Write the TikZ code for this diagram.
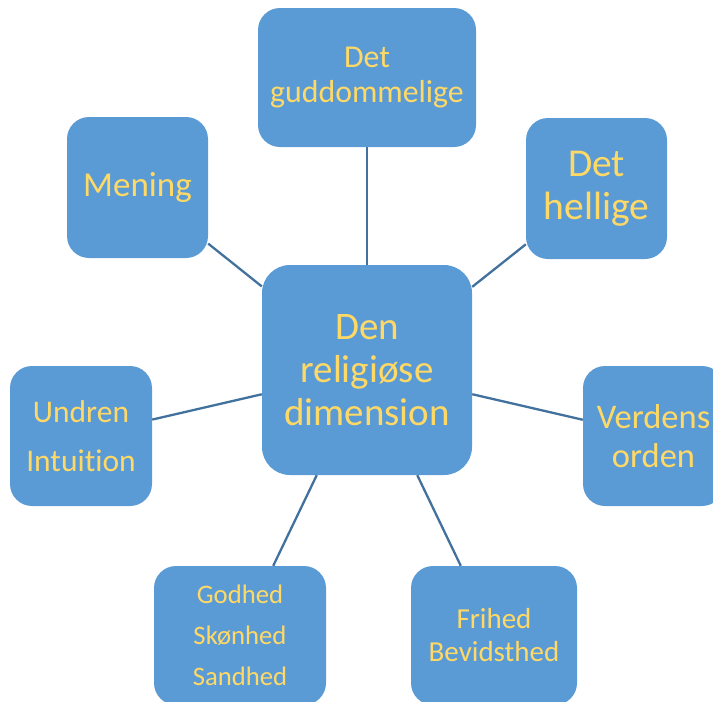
\documentclass[tikz,border=0pt]{standalone}
\usepackage{fontspec}
\setmainfont{Carlito}[Ligatures=NoCommon]
\definecolor{boxfill}{HTML}{5B9BD5}
\definecolor{boxtext}{HTML}{FFD966}
\definecolor{linkcol}{HTML}{41719C}
\begin{document}
\begin{tikzpicture}[x=1pt,y=-1pt,
  cbox/.style={rectangle, fill=boxfill, text=boxtext, align=center, inner sep=0pt, rounded corners=22pt},
  link/.style={draw=linkcol, line width=2.3pt}]
\useasboundingbox (0,0) rectangle (713,702);
\begin{scope}
\clip (0,0) rectangle (713,702);
\node[cbox, minimum width=210pt, minimum height=210pt, rounded corners=28pt,
  font=\fontsize{39}{43}\selectfont] (c) at (367,370) {Den\\religiøse\\dimension};
\node[cbox, minimum width=218pt, minimum height=139pt,
  font=\fontsize{31.8}{35}\selectfont] (top) at (367,77.5) {Det\\guddommelige};
\node[cbox, minimum width=141pt, minimum height=141pt,
  font=\fontsize{39.5}{43}\selectfont] (hel) at (596.5,188.5) {Det\\hellige};
\node[cbox, minimum width=141pt, minimum height=141pt,
  font=\fontsize{35}{40}\selectfont] (men) at (137.5,187.5) {Mening};
\node[cbox, minimum width=142pt, minimum height=140pt,
  font=\fontsize{31.5}{49}\selectfont] (und) at (81,436) {Undren\\Intuition};
\node[cbox, minimum width=141pt, minimum height=140pt,
  font=\fontsize{34.5}{39}\selectfont] (ver) at (653.5,436) {Verdens\\orden};
\node[cbox, minimum width=172pt, minimum height=139pt,
  font=\fontsize{26.7}{41}\selectfont] (god) at (240,635.5) {Godhed\\Skønhed\\Sandhed};
\node[cbox, minimum width=166pt, minimum height=139pt,
  font=\fontsize{29}{33}\selectfont] (fri) at (494,635.5) {Frihed\\Bevidsthed};
\draw[link] (c) -- (top);
\draw[link] (c) -- (hel);
\draw[link] (c) -- (men);
\draw[link] (c) -- (und);
\draw[link] (c) -- (ver);
\draw[link] (c) -- (god);
\draw[link] (c) -- (fri);
\end{scope}
\end{tikzpicture}
\end{document}
